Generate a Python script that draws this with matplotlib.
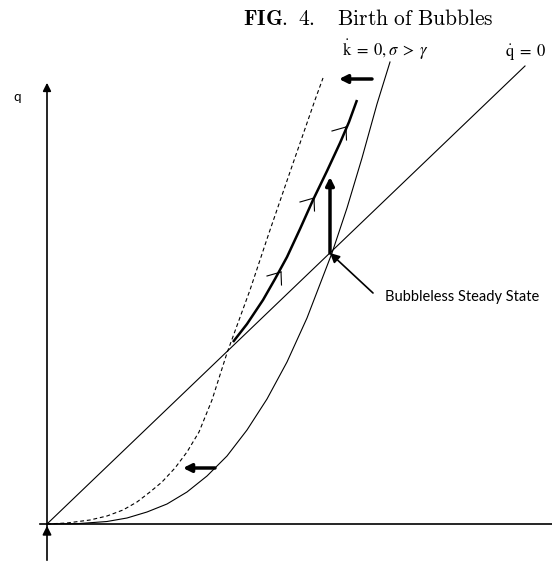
import numpy as np
import matplotlib
matplotlib.use('Agg')
import matplotlib.pyplot as plt

# k-dot = 0 locus (solid), sigma > gamma
kdot_x = [0, 30, 60, 80, 100, 120, 140, 160, 180, 200, 220, 240, 260, 285, 300, 315, 330, 343]
kdot_y = [0, 0.3, 2.5, 6, 12, 20, 32, 48, 68, 94, 125, 162, 206, 271, 316, 366, 420, 462]

# shifted k-dot = 0 locus (dashed)
shift_x = [0, 20, 43, 60, 76, 90, 103, 115, 128, 140, 152, 165, 180, 203, 222, 243, 268, 276]
shift_y = [0, 1, 4, 8, 14, 22, 32, 42, 56, 72, 92, 124, 171, 234, 291, 352, 424, 446]

# bubble path (thick)
path_x = [186, 200, 216, 228, 240, 253, 266, 280, 293, 302, 310]
path_y = [182, 200, 224, 245, 267, 295, 324, 353, 381, 402, 424]
path_arrows = [(234, 252), (267, 326), (299, 397)]

# q-dot = 0 line
qdot_x = [0, 478]
qdot_y = [0, 458]

steady = (283, 271)

fig = plt.figure(figsize=(5.52, 5.63), dpi=100)
ax = fig.add_axes([0, 0, 1, 1])
ax.set_xlim(-47, 505)
ax.set_ylim(-39, 524)
ax.axis('off')

# axes
ax.plot([-7, 505], [0, 0], color='black', lw=1.2)
ax.annotate('', xy=(0, 444), xytext=(0, -39),
            arrowprops=dict(arrowstyle='-|>', color='black', lw=1.2, mutation_scale=12))
ax.annotate('', xy=(0, 1), xytext=(0, -12),
            arrowprops=dict(arrowstyle='-|>', color='black', lw=1.2, mutation_scale=13))
ax.text(-30, 427, 'q', fontsize=9.5, family='Lato', ha='center', va='center')

# curves
ax.plot(qdot_x, qdot_y, color='black', lw=0.8)
ax.plot(kdot_x, kdot_y, color='black', lw=0.8)
ax.plot(shift_x, shift_y, color='black', lw=0.8, ls=(0, (3.5, 2.5)))
ax.plot(path_x, path_y, color='black', lw=1.8, solid_capstyle='butt')

# little half arrows on the bubble path
for tx, ty in path_arrows:
    ax.plot([tx - 14, tx], [ty - 4, ty], color='black', lw=0.8)
    ax.plot([tx, tx + 0.5], [ty, ty - 13], color='black', lw=0.8)

# shift arrows
arrow_kw = dict(arrowstyle='-|>', color='black', lw=2.5, mutation_scale=12, shrinkA=0, shrinkB=0)
ax.annotate('', xy=(292, 445), xytext=(325, 445), arrowprops=arrow_kw)
ax.annotate('', xy=(136, 56), xytext=(168, 56), arrowprops=arrow_kw)
ax.annotate('', xy=(steady[0], 347), xytext=steady, arrowprops=arrow_kw)

# steady state label
ax.annotate('', xy=steady, xytext=(326, 231),
            arrowprops=dict(arrowstyle='-|>', color='black', lw=1.2, mutation_scale=14,
                            shrinkA=0, shrinkB=0))
ax.text(338, 227, 'Bubbleless Steady State', fontsize=10.5, family='Lato', va='center')

# curve labels
ax.text(338, 474, r'$\dot{\rm k}\;=\;0,\sigma\;>\;\gamma$', fontsize=12,
        math_fontfamily='stix', ha='center', va='center')
ax.text(458, 472, r'$\dot{\rm q}\;=\;0$', fontsize=12,
        math_fontfamily='stix', ha='left', va='center')

fig.text(0.667, 0.966, r'$\mathbf{FIG.\ 4.}\ \ \ \mathrm{Birth\ of\ Bubbles}$',
         fontsize=15.5, math_fontfamily='cm', ha='center', va='center')

fig.savefig('out.png', dpi=100)
